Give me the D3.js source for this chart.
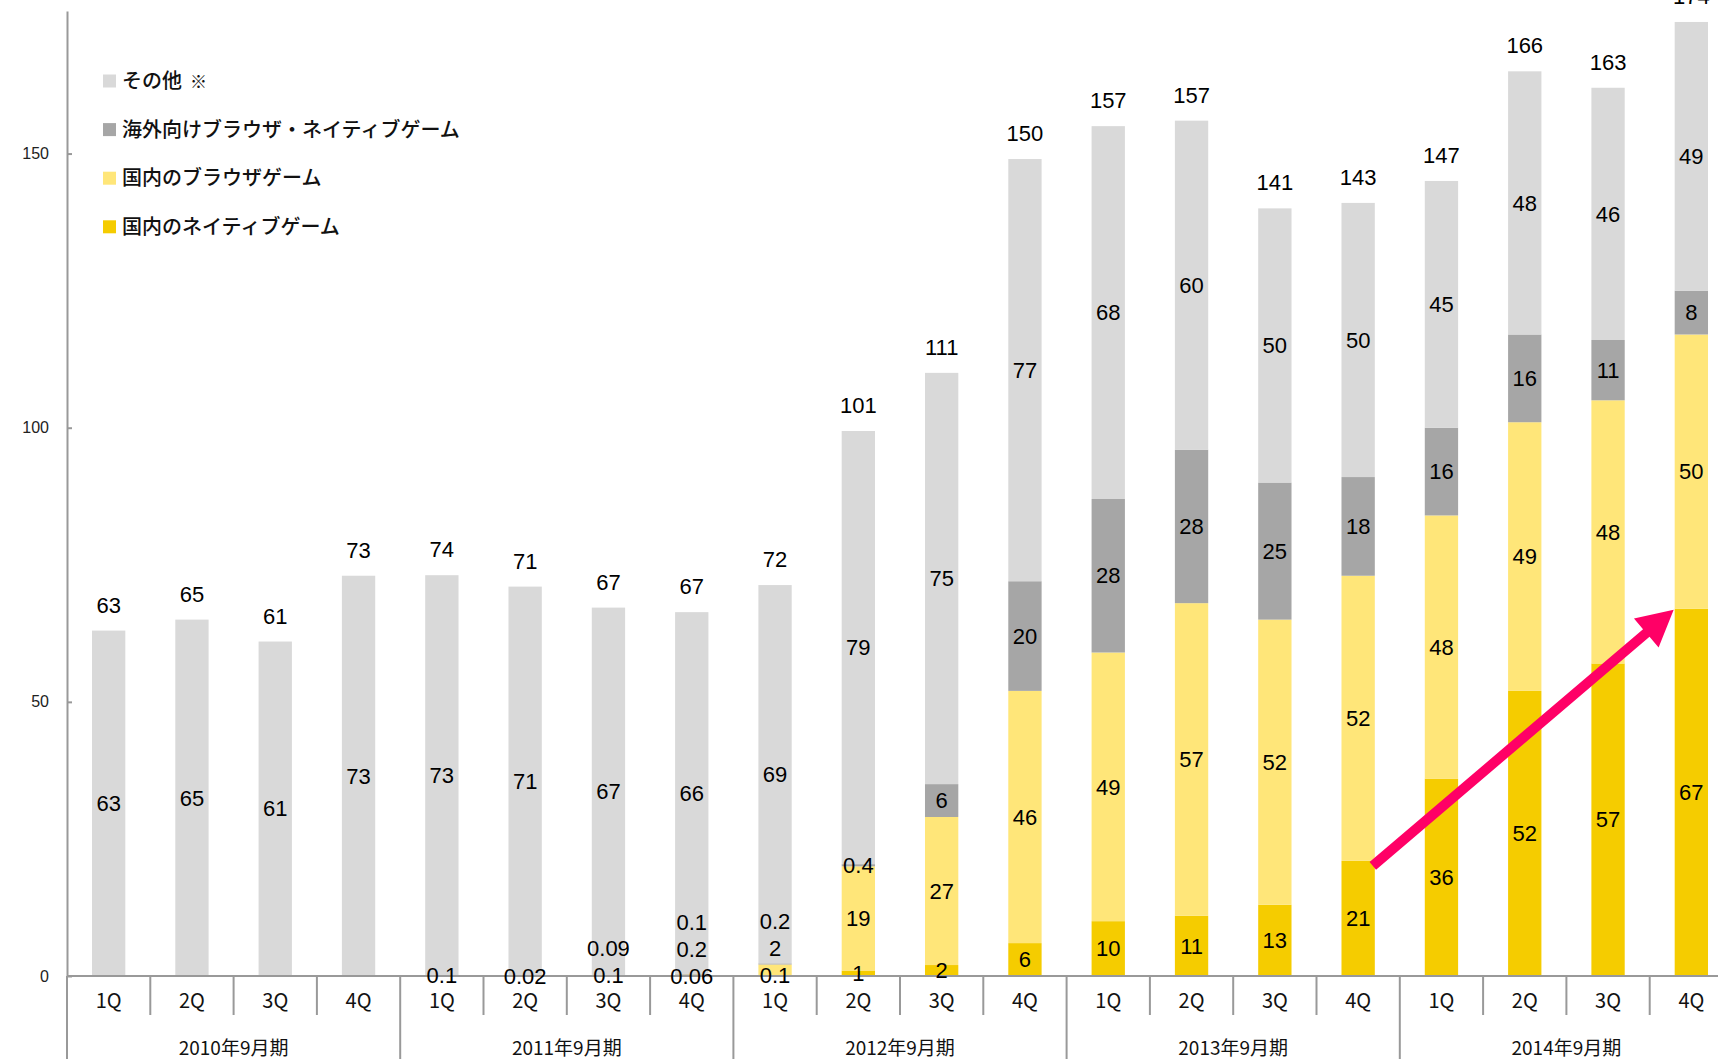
<!DOCTYPE html>
<html>
<head>
<meta charset="utf-8">
<script src="https://cdn.jsdelivr.net/npm/d3@7/dist/d3.min.js"></script>
<style>
  body{margin:0;background:#fff;overflow:hidden}
  svg{display:block}
</style>
</head>
<body>
<svg id="plot"></svg>
<script>
const width = 1718;
const height = 1059;

// ---- data ----
const years = ['2010年9月期', '2011年9月期', '2012年9月期', '2013年9月期', '2014年9月期'];
const quarters = ['1Q', '2Q', '3Q', '4Q'];

const native   = [0, 0, 0, 0,   0.1, 0.02, 0.1, 0.06,  0.1, 1, 2, 6,    10, 11, 13, 21,  36, 52, 57, 67];
const browser  = [0, 0, 0, 0,   0, 0, 0.09, 0.2,       2, 19, 27, 46,   49, 57, 52, 52,  48, 49, 48, 50];
const overseas = [0, 0, 0, 0,   0, 0, 0, 0.1,          0.2, 0.4, 6, 20, 28, 28, 25, 18,  16, 16, 11, 8];
const other    = [63, 65, 61, 73, 73, 71, 67, 66,      69, 79, 75, 77,  68, 60, 50, 50,  45, 48, 46, 49];
const totals   = [63, 65, 61, 73, 74, 71, 67, 67,      72, 101, 111, 150, 157, 157, 141, 143, 147, 166, 163, 174];

const seriesNames = ['国内のネイティブゲーム', '国内のブラウザゲーム', '海外向けブラウザ・ネイティブゲーム', 'その他'];
const seriesColors = ['#f5cc00', '#ffe679', '#a6a6a6', '#d9d9d9'];

const yTicks = [0, 50, 100, 150];

const numFont = '"Liberation Sans", Arial, sans-serif';
const jpFont = '"Noto Sans CJK JP", "Noto Sans", sans-serif';

function main(){
  let svg = new Chart('#plot', width, height)
  .initScales()
  .initAxes()
  .initBars()
  .initLabels()
  .initArrow()
  .initLegend();
  window.chart = svg;
}

class Chart{
  constructor(id, width, height){
    this.svg = d3.select('svg' + id)
    .attr('width', width)
    .attr('height', height);
    this.width = width;
    this.height = height;

    this.cats = [];
    years.forEach(y => quarters.forEach(q => this.cats.push(y + '-' + q)));

    this.rows = this.cats.map((c, i) => ({
      cat: c,
      native: native[i],
      browser: browser[i],
      overseas: overseas[i],
      other: other[i],
      total: totals[i]
    }));
    this.keys = ['native', 'browser', 'overseas', 'other'];
    this.stacked = d3.stack().keys(this.keys)(this.rows);
  }

  initScales(){
    let left = 67;
    let step = 83.3;
    this.sx = d3.scaleBand()
    .domain(this.cats)
    .range([left, left + step * this.cats.length])
    .paddingInner(0.6)
    .paddingOuter(0.3);

    this.sy = d3.scaleLinear()
    .domain([0, 176])
    .range([976, 11]);
    return this;
  }

  initAxes(){
    let sx = this.sx, sy = this.sy;
    let base = sy(0);
    let left = sx.range()[0];

    // y axis, ticks pointing inwards
    let ay = d3.axisLeft(sy)
    .tickValues(yTicks)
    .tickSizeInner(-5)
    .tickSizeOuter(0)
    .tickPadding(18);
    let gy = this.svg.append('g')
    .attr('transform', `translate(${left},0)`)
    .call(ay);
    gy.select('.domain').attr('stroke', '#999').attr('stroke-width', 2);
    gy.selectAll('.tick line').attr('stroke', '#999').attr('stroke-width', 2);
    gy.selectAll('.tick text')
    .attr('font-family', numFont)
    .attr('font-size', 16)
    .attr('fill', '#222');

    // quarter labels under the bars
    let ax = d3.axisBottom(sx)
    .tickFormat((d, i) => quarters[i % 4])
    .tickSize(0)
    .tickPadding(18);
    let gx = this.svg.append('g')
    .attr('transform', `translate(0,${base})`)
    .call(ax);
    gx.select('.domain').remove();
    gx.selectAll('.tick text')
    .attr('font-family', jpFont)
    .attr('font-size', 20)
    .attr('fill', '#111');

    // cell separators: short ones between quarters, long ones between years
    let half = (sx.step() - sx.bandwidth()) / 2;
    this.svg.selectAll('.sep')
    .data(this.cats)
    .enter()
    .append('line')
    .attr('class', 'sep')
    .attr('x1', d => sx(d) - half)
    .attr('x2', d => sx(d) - half)
    .attr('y1', base)
    .attr('y2', (d, i) => i % 4 === 0 ? this.height : 1015)
    .attr('stroke', '#999')
    .attr('stroke-width', 2);

    this.svg.selectAll('.year')
    .data(years)
    .enter()
    .append('text')
    .attr('class', 'year')
    .attr('x', (d, i) => (sx(this.cats[i * 4 + 1]) + sx(this.cats[i * 4 + 2]) + sx.bandwidth()) / 2)
    .attr('y', 1048)
    .attr('dy', '0.35em')
    .attr('text-anchor', 'middle')
    .attr('font-family', jpFont)
    .attr('font-size', 19)
    .attr('fill', '#111')
    .text(d => d);
    return this;
  }

  initBars(){
    let sx = this.sx, sy = this.sy;
    this.layers = this.svg.selectAll('.layer')
    .data(this.stacked)
    .enter()
    .append('g')
    .attr('class', 'layer')
    .attr('fill', (d, i) => seriesColors[i]);

    this.layers.selectAll('rect')
    .data(d => d)
    .enter()
    .append('rect')
    .attr('x', d => sx(d.data.cat))
    .attr('y', d => sy(d[1]))
    .attr('width', sx.bandwidth())
    .attr('height', d => sy(d[0]) - sy(d[1]));

    // baseline over the bars
    this.svg.append('line')
    .attr('x1', sx.range()[0])
    .attr('x2', this.width)
    .attr('y1', sy(0))
    .attr('y2', sy(0))
    .attr('stroke', '#999')
    .attr('stroke-width', 2);
    return this;
  }

  initLabels(){
    let sx = this.sx, sy = this.sy;
    let gap = 27;
    let labels = [];
    this.rows.forEach((row, i) => {
      let prev = null;
      this.stacked.forEach(layer => {
        let seg = layer[i];
        let v = row[layer.key];
        if (!v) return;
        let y = sy((seg[0] + seg[1]) / 2);
        if (prev !== null && y > prev - gap) y = prev - gap;
        prev = y;
        labels.push({cat: row.cat, y: y, text: String(v)});
      });
    });

    this.svg.selectAll('.segLabel')
    .data(labels)
    .enter()
    .append('text')
    .attr('class', 'segLabel')
    .attr('x', d => sx(d.cat) + sx.bandwidth() / 2)
    .attr('y', d => d.y)
    .attr('dy', '0.35em')
    .attr('text-anchor', 'middle')
    .attr('font-family', numFont)
    .attr('font-size', 22)
    .attr('fill', '#000')
    .text(d => d.text);

    let top = this.stacked[this.stacked.length - 1];
    this.svg.selectAll('.totLabel')
    .data(this.rows)
    .enter()
    .append('text')
    .attr('class', 'totLabel')
    .attr('x', d => sx(d.cat) + sx.bandwidth() / 2)
    .attr('y', (d, i) => sy(top[i][1]) - 18)
    .attr('text-anchor', 'middle')
    .attr('font-family', numFont)
    .attr('font-size', 22)
    .attr('fill', '#000')
    .text(d => d.total);
    return this;
  }

  initArrow(){
    // annotation: from 2013 4Q native top to 2014 4Q native top
    let sx = this.sx, sy = this.sy;
    let a = this.cats[15], b = this.cats[19];
    let x0 = sx(a) + sx.bandwidth() - 2, y0 = sy(native[15]) + 5;
    let x1 = sx(b) - 1, y1 = sy(native[19]) + 1;
    let dx = x1 - x0, dy = y1 - y0;
    let len = Math.sqrt(dx * dx + dy * dy);
    let ux = dx / len, uy = dy / len;
    let px = -uy, py = ux;
    let headLen = 36, headW = 19, shaftW = 5;
    let bx = x1 - ux * headLen, by = y1 - uy * headLen;
    let pts = [
      [x0 + px * shaftW, y0 + py * shaftW],
      [bx + px * shaftW, by + py * shaftW],
      [bx + px * headW, by + py * headW],
      [x1, y1],
      [bx - px * headW, by - py * headW],
      [bx - px * shaftW, by - py * shaftW],
      [x0 - px * shaftW, y0 - py * shaftW]
    ];
    this.svg.append('polygon')
    .attr('points', pts.map(p => p.join(',')).join(' '))
    .attr('fill', '#ff0066');
    return this;
  }

  initLegend(){
    let items = seriesNames.map((n, i) => ({name: n, color: seriesColors[i]})).reverse();
    let g = this.svg.append('g')
    .attr('transform', 'translate(103,81)');
    let row = g.selectAll('.leg')
    .data(items)
    .enter()
    .append('g')
    .attr('class', 'leg')
    .attr('transform', (d, i) => `translate(0,${i * 48.6})`);
    row.append('rect')
    .attr('x', 0)
    .attr('y', -6.5)
    .attr('width', 13)
    .attr('height', 13)
    .attr('fill', d => d.color);
    let t = row.append('text')
    .attr('x', 19)
    .attr('y', 0)
    .attr('dy', '0.36em')
    .attr('font-family', jpFont)
    .attr('font-size', 20)
    .attr('font-weight', 500)
    .attr('fill', '#111')
    .text(d => d.name);
    t.filter(d => d.name === 'その他')
    .append('tspan')
    .attr('dx', 8)
    .attr('font-size', 17)
    .text('※');
    return this;
  }
}

document.addEventListener('DOMContentLoaded', main);
</script>
</body>
</html>
